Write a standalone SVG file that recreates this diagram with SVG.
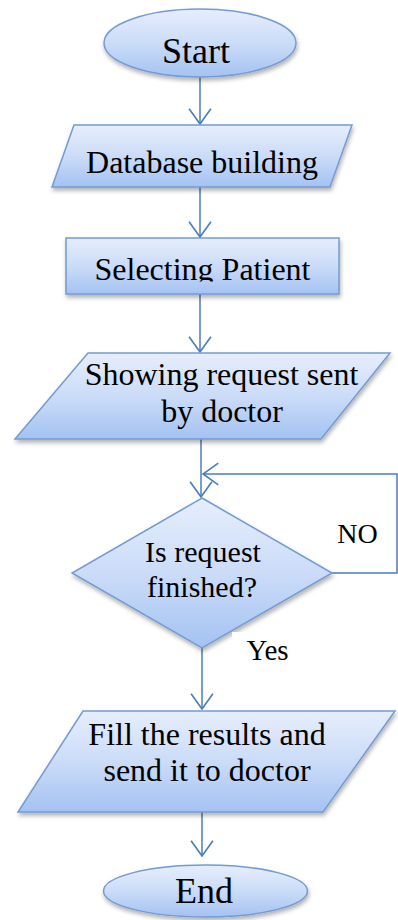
<svg xmlns="http://www.w3.org/2000/svg" width="398" height="920" viewBox="0 0 398 920">
  <defs>
    <linearGradient id="shapeFill" x1="0" y1="0" x2="0" y2="1">
      <stop offset="0" stop-color="#e6eefc"/>
      <stop offset="0.5" stop-color="#cbdcf8"/>
      <stop offset="1" stop-color="#a4c2f2"/>
    </linearGradient>
    <filter id="shadow" x="-10%" y="-10%" width="120%" height="130%">
      <feDropShadow dx="1" dy="3" stdDeviation="2" flood-color="#000" flood-opacity="0.3"/>
    </filter>
    <marker id="arrow" markerUnits="userSpaceOnUse" markerWidth="18" markerHeight="24" viewBox="0 0 16 22" refX="15" refY="11" orient="auto">
      <path d="M1,1 L15,11 L1,21" fill="none" stroke="#4a7ebb" stroke-width="1.5"/>
    </marker>
    <clipPath id="selClip">
      <rect x="60" y="238" width="290" height="43.5"/>
    </clipPath>
  </defs>
  <style>
    .shape { fill: url(#shapeFill); stroke: #739bd4; stroke-width: 1.5; filter: url(#shadow); }
    .lbl { font-family: 'Liberation Serif', 'DejaVu Serif', 'Times New Roman', serif; fill: #000; text-anchor: middle; }
    .conn { fill: none; stroke: #4a7ebb; stroke-width: 1.5; }
    .mask { fill: #fff; stroke: none; }
  </style>

  <!-- connectors -->
  <g id="connectors">
    <path class="conn" d="M200,77 L200,124" marker-end="url(#arrow)"/>
    <path class="conn" d="M200,187 L200,237" marker-end="url(#arrow)"/>
    <path class="conn" d="M200,294 L200,352" marker-end="url(#arrow)"/>
    <path class="conn" d="M201,439 L201,497" marker-end="url(#arrow)"/>
    <path class="conn" d="M332,573 L397,573 L397,474 L203,474" marker-end="url(#arrow)"/>
    <path class="conn" d="M202,648 L202,709" marker-end="url(#arrow)"/>
    <path class="conn" d="M202,812 L202,856" marker-end="url(#arrow)"/>
  </g>

  <g font-family="Liberation Serif, serif">
    <g id="start">
      <ellipse class="shape" cx="200" cy="43" rx="96" ry="34"/>
      <text class="lbl" x="196" y="63" font-size="36">Start</text>
    </g>

    <g id="database">
      <polygon class="shape" points="74,125 352,125 330,187 52,187"/>
      <text class="lbl" x="202" y="173" font-size="32">Database building</text>
    </g>

    <g id="selecting">
      <rect class="shape" x="66" y="238" width="273" height="56"/>
      <text class="lbl" x="202.5" y="280" font-size="32" clip-path="url(#selClip)">Selecting Patient</text>
    </g>

    <g id="showing">
      <polygon class="shape" points="88,353 390,353 321,439 15,439"/>
      <text class="lbl" x="221.5" y="385" font-size="32">Showing request sent</text>
      <text class="lbl" x="222" y="422" font-size="32">by doctor</text>
    </g>

    <g id="decision">
      <polygon class="shape" points="202,498 332,573 202,648 72,573"/>
      <text class="lbl" x="203" y="562" font-size="30">Is request</text>
      <text class="lbl" x="202" y="597" font-size="30">finished?</text>
    </g>

    <g id="label-no">
      <rect class="mask" x="317" y="505" width="78" height="57"/>
      <text class="lbl" x="357.5" y="543" font-size="28">NO</text>
    </g>

    <g id="label-yes">
      <rect class="mask" x="232" y="632" width="70" height="38"/>
      <text class="lbl" x="267.5" y="660" font-size="29">Yes</text>
    </g>

    <g id="fill-results">
      <polygon class="shape" points="83,711 395,711 323,812 18,812"/>
      <text class="lbl" x="207" y="745" font-size="32">Fill the results and</text>
      <text class="lbl" x="207" y="781" font-size="32">send it to doctor</text>
    </g>

    <g id="end">
      <ellipse class="shape" cx="205.5" cy="891" rx="102" ry="26"/>
      <text class="lbl" x="204" y="903" font-size="36">End</text>
    </g>
  </g>
</svg>
